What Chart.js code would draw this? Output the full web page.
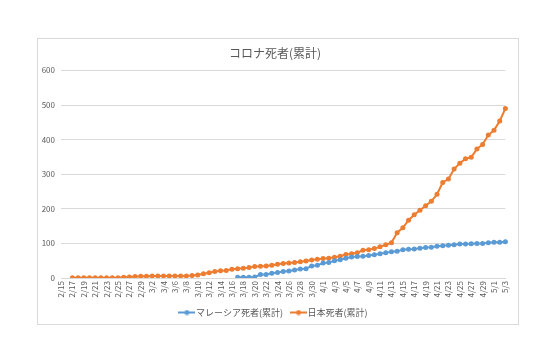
<!DOCTYPE html>
<html>
<head>
<meta charset="utf-8">
<script src="https://cdn.jsdelivr.net/npm/chart.js@4"></script>
<style>
  html, body { margin: 0; padding: 0; background: #fff; }
  #box {
    position: absolute; left: 37px; top: 38px;
    width: 480px; height: 285px;
    border: 1px solid #d9d9d9;
  }
  #chart { position: absolute; left: 0; top: 0; }
</style>
</head>
<body>
<div id="box"><canvas id="chart" width="480" height="288"></canvas></div>
<script>
// 日付 (2/15 - 5/3)
const dates = [
  '2/15','2/16','2/17','2/18','2/19','2/20','2/21','2/22','2/23','2/24','2/25','2/26','2/27','2/28','2/29',
  '3/1','3/2','3/3','3/4','3/5','3/6','3/7','3/8','3/9','3/10','3/11','3/12','3/13','3/14','3/15','3/16',
  '3/17','3/18','3/19','3/20','3/21','3/22','3/23','3/24','3/25','3/26','3/27','3/28','3/29','3/30','3/31',
  '4/1','4/2','4/3','4/4','4/5','4/6','4/7','4/8','4/9','4/10','4/11','4/12','4/13','4/14','4/15',
  '4/16','4/17','4/18','4/19','4/20','4/21','4/22','4/23','4/24','4/25','4/26','4/27','4/28','4/29','4/30',
  '5/1','5/2','5/3'
];

// マレーシア死者(累計)
const malaysia = [
  null,null,null,null,null,null,null,null,null,null,null,null,null,null,null,
  null,null,null,null,null,null,null,null,null,null,null,null,null,null,null,null,
  2,2,2,3,10,10,14,16,19,20,23,26,27,35,37,
  43,45,50,53,57,61,62,63,65,67,70,73,76,77,82,
  83,84,86,88,89,92,93,95,96,98,98,99,100,100,102,
  103,103,105
];

// 日本死者(累計)
const japan = [
  null,null,1,1,1,1,1,1,1,1,1,2,3,4,5,
  5,6,6,6,6,6,6,6,7,9,12,15,19,21,22,25,
  27,28,30,33,34,35,37,40,42,43,45,47,49,52,54,
  56,57,60,63,68,70,73,80,82,85,90,96,102,131,145,
  167,183,196,209,222,242,276,286,315,332,345,349,373,386,413,
  427,454,490
];

const yTicks = [0, 100, 200, 300, 400, 500, 600];

const BLUE = '#5b9bd5';
const ORANGE = '#ed7d31';
const TEXT = '#595959';
const FONT = "'Noto Sans CJK JP', 'Noto Sans', sans-serif";

// 凡例のマーカー (線 + 丸)
function legendMark(color) {
  const c = document.createElement('canvas');
  c.width = 17; c.height = 6;
  const g = c.getContext('2d');
  g.strokeStyle = color; g.lineWidth = 2;
  g.beginPath(); g.moveTo(0, 3); g.lineTo(17, 3); g.stroke();
  g.fillStyle = color;
  g.beginPath(); g.arc(8.5, 3, 2.5, 0, Math.PI * 2); g.fill();
  return c;
}

const series = [
  { label: 'マレーシア死者(累計)', data: malaysia, color: BLUE },
  { label: '日本死者(累計)', data: japan, color: ORANGE }
];

new Chart(document.getElementById('chart'), {
  type: 'line',
  data: {
    labels: dates,
    datasets: series.map(s => ({
      label: s.label,
      data: s.data,
      borderColor: s.color,
      backgroundColor: s.color,
      borderWidth: 2,
      pointRadius: 2.5,
      pointBorderWidth: 0,
      tension: 0,
      spanGaps: false
    }))
  },
  options: {
    responsive: false,
    animation: false,
    layout: { padding: { left: 0, right: 6, top: 0, bottom: 0 } },
    plugins: {
      title: {
        display: true,
        text: 'コロナ死者(累計)',
        color: TEXT,
        font: { family: FONT, size: 12, weight: 'normal' },
        padding: { top: 7, bottom: 10 }
      },
      legend: {
        position: 'bottom',
        labels: {
          color: TEXT,
          font: { family: FONT, size: 9 },
          usePointStyle: true,
          padding: 7,
          generateLabels: chart => {
            const items = Chart.defaults.plugins.legend.labels.generateLabels(chart);
            items.forEach((it, i) => {
              it.pointStyle = legendMark(series[i].color);
              if (i === 0) it.text = it.text + '  ';
            });
            return items;
          }
        }
      },
      tooltip: { enabled: false }
    },
    scales: {
      x: {
        grid: { display: false, drawTicks: false },
        border: { color: '#d9d9d9' },
        afterFit: s => { s.height = 23; },
        ticks: {
          color: TEXT,
          font: { family: FONT, size: 8 },
          autoSkip: false,
          maxRotation: 90,
          minRotation: 90,
          padding: 3,
          callback: function (v, i) { return i % 2 === 0 ? dates[i] : ''; }
        }
      },
      y: {
        min: 0, max: 600,
        afterFit: s => { s.width = 23; },
        afterBuildTicks: s => { s.ticks = yTicks.map(v => ({ value: v })); },
        grid: { color: '#d9d9d9', drawTicks: false },
        border: { display: false },
        ticks: {
          color: TEXT,
          font: { family: FONT, size: 8 },
          padding: 6
        }
      }
    }
  }
});
</script>
</body>
</html>
